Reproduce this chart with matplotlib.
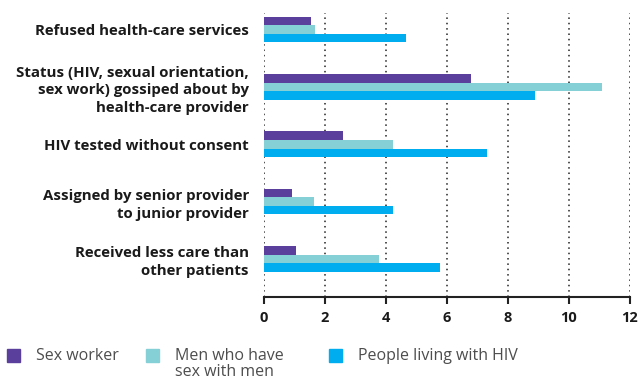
import matplotlib.pyplot as plt
import numpy as np
from matplotlib.patches import Rectangle

categories = [
    "Refused health-care services",
    "Status (HIV, sexual orientation,\nsex work) gossiped about by\nhealth-care provider",
    "HIV tested without consent",
    "Assigned by senior provider\nto junior provider",
    "Received less care than\nother patients",
]
sex_worker = [1.55, 6.8, 2.6, 0.93, 1.03]
msm = [1.68, 11.1, 4.23, 1.65, 3.77]
plhiv = [4.66, 8.9, 7.33, 4.23, 5.77]

series_names = ["Sex worker", "Men who have\nsex with men", "People living with HIV"]
colors = ["#5a3f9c", "#85d0d6", "#00adee"]
x_ticks = [0, 2, 4, 6, 8, 10, 12]

plt.rcParams['font.family'] = ['Open Sans', 'DejaVu Sans']

fig = plt.figure(figsize=(6.38, 3.82), dpi=100)
ax = fig.add_axes([0.414, 0.222, 0.573, 0.744])

y = np.arange(len(categories))
h = 0.15
for i, (vals, c) in enumerate(zip([sex_worker, msm, plhiv], colors)):
    ax.barh(y + (i - 1) * h, vals, height=h, color=c, zorder=3)

ax.set_xlim(0, 12)
ax.set_ylim(len(categories) - 1 + 0.67, -0.29)
ax.set_xticks(x_ticks)
ax.set_xticklabels([str(t) for t in x_ticks], fontweight='bold', fontsize=10.5, color='#1a1a1a')
ax.set_yticks(y)
ax.set_yticklabels(categories, fontweight='bold', fontsize=10.8, color='#1a1a1a')
for lab in ax.get_yticklabels():
    lab.set_linespacing(1.33)
ax.tick_params(axis='y', length=0, pad=11)
ax.tick_params(axis='x', length=5, width=1.5, color='#222222', pad=5)

for s in ['top', 'right', 'left']:
    ax.spines[s].set_visible(False)
ax.spines['bottom'].set_linewidth(1.5)
ax.spines['bottom'].set_color('#222222')
ax.xaxis.grid(True, linestyle=(0, (1, 2.5)), color='#222222', linewidth=1.1, zorder=0)
ax.set_axisbelow(True)

# legend
fw, fh = 638, 382
leg_x = [7, 146, 329]
for name, c, lx in zip(series_names, colors, leg_x):
    fig.patches.append(Rectangle((lx / fw, 1 - 362 / fh), 13 / fw, 13 / fh,
                                 transform=fig.transFigure, color=c))
    fig.text((lx + 29) / fw, 1 - 348 / fh, name, fontsize=11.5, color='#4d4d4d',
             va='top', ha='left', linespacing=1.0)

fig.savefig('out.png', dpi=100)
